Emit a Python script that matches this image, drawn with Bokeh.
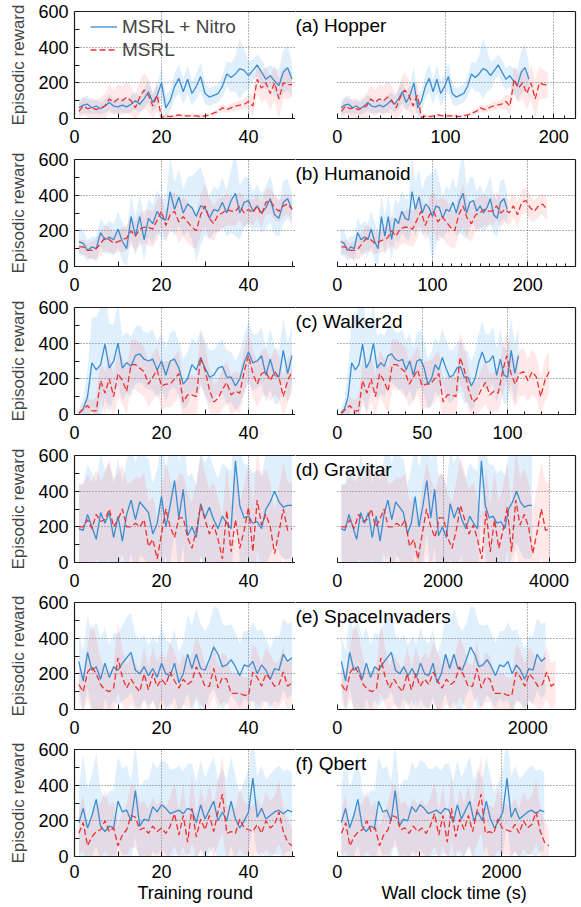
import numpy as np
from bokeh.plotting import figure
from bokeh.layouts import column, row
from bokeh.models import (Range1d, FixedTicker, LinearAxis, Label, Legend, LegendItem,
                          Grid, Title)
from bokeh.embed import file_html
from bokeh.resources import INLINE

# ---------------- data ----------------
rounds = list(range(1, 51))

titles = ["(a) Hopper", "(b) Humanoid", "(c) Walker2d", "(d) Gravitar",
          "(e) SpaceInvaders", "(f) Qbert"]

hop_n = [60,75,80,60,70,55,70,90,70,65, 75,65,80,100,80,110,150,90,130,200,
         60,100,180,225,150,220,140,180,235,140, 120,130,140,180,250,230,250,280,270,240,
         270,300,260,220,240,210,185,260,285,220]
hop_n_sd = [40,45,50,35,40,35,40,45,40,35, 40,35,45,50,45,55,60,50,60,90,
            70,60,70,80,70,80,70,70,80,60, 50,50,50,60,70,80,100,170,120,80,
            60,60,70,60,60,70,90,120,130,90]
hop_m = [40,70,55,60,50,60,70,110,90,110, 100,120,100,60,120,160,130,70,130,5,
         15,10,15,20,15,15,15,15,10,15, 20,30,40,60,50,60,70,75,80,95,
         70,220,170,200,140,200,110,200,190,190]
hop_m_sd = [40,50,50,55,50,60,70,80,70,80, 80,90,80,70,90,100,90,70,90,20,
            10,10,10,10,10,10,10,10,10,10, 10,15,15,20,20,20,25,25,30,40,
            60,80,80,90,90,100,110,90,80,70]

hum_n = [140,130,90,110,100,190,150,165,150,210, 140,100,280,170,280,150,270,240,310,270,
         260,420,320,390,300,350,330,280,340,330, 270,320,310,360,300,370,410,300,360,370,
         310,340,300,330,380,290,270,360,380,320]
hum_n_sd = [80,70,60,60,70,80,80,90,90,100, 110,100,120,110,130,120,110,110,120,110,
            120,200,150,160,130,150,180,250,220,150, 120,130,120,140,130,180,240,150,140,130,
            110,120,110,120,130,110,100,120,110,90]
hum_m = [110,110,90,90,100,130,160,150,130,140, 150,160,200,170,210,220,220,210,260,310,
         230,290,310,250,280,250,220,200,290,340, 270,240,290,300,320,310,310,340,300,320,
         300,340,290,360,370,330,310,340,350,320]
hum_m_sd = [40,40,40,50,60,70,70,70,60,60, 70,70,80,80,90,90,100,100,110,90,
            80,100,110,120,110,120,110,100,110,120, 110,100,90,90,90,80,80,80,80,70,
            70,70,70,70,70,70,60,60,60,60]

walk_n = [10,30,100,290,250,280,395,260,300,400, 260,290,270,330,340,310,300,310,250,300,
          220,300,310,260,170,200,280,250,320,260, 210,220,260,270,210,210,160,200,290,350,
          290,300,330,220,310,220,210,360,230,330]
walk_n_sd = [20,60,150,250,300,320,300,250,200,230, 180,170,170,160,160,150,160,170,160,160,
             150,160,160,150,140,150,150,150,160,160, 150,140,140,150,150,140,140,150,160,170,
             160,150,160,150,170,160,150,180,170,160]
walk_m = [5,30,50,20,20,190,120,200,100,230, 190,130,280,280,260,240,170,210,250,160,
          170,170,200,230,70,110,110,100,320,250, 140,70,90,140,180,110,130,120,240,330,
          230,170,230,240,190,240,210,100,190,240]
walk_m_sd = [10,30,50,60,80,110,120,130,120,130, 130,130,140,140,140,140,130,130,130,130,
             130,130,130,130,110,110,110,110,140,140, 120,100,100,110,120,110,110,110,130,140,
             130,130,130,130,120,130,120,110,120,120]

gra_n = [190,180,270,200,130,280,220,280,140,260, 120,270,350,240,340,310,280,160,220,370,
         200,320,460,250,410,150,200,140,330,250, 310,240,190,260,220,190,570,320,250,260,
         220,230,190,300,340,400,340,310,320,320]
gra_n_sd = [250,260,280,300,320,330,300,280,300,320, 330,310,300,320,300,290,300,280,300,320,
            330,320,300,310,320,330,300,290,300,310, 300,290,280,300,310,320,300,310,300,290,
            280,290,300,310,300,290,280,290,300,290]
gra_m = [200,200,240,190,270,230,240,300,200,240, 300,200,200,220,200,240,90,130,20,160,
         300,200,140,250,250,140,80,180,320,240, 160,210,130,20,290,60,240,80,180,310,
         60,350,210,270,200,50,170,300,180,190]
gra_m_sd = [230,240,250,260,250,230,260,280,270,260, 250,240,250,260,270,260,250,240,230,250,
            260,270,260,250,240,250,260,270,280,260, 250,240,230,240,250,260,270,260,250,240,
            260,280,270,260,250,240,250,260,270,260]

spi_n = [270,160,320,220,240,170,260,180,240,220, 260,290,320,220,200,240,190,230,180,260,
         200,190,260,150,200,310,230,310,230,220, 280,350,310,240,250,280,240,190,250,240,
         270,200,250,220,170,230,220,310,270,290]
spi_n_sd = [150,170,200,220,250,230,200,180,190,200, 210,230,220,200,190,180,170,180,190,200,
            190,180,190,170,180,220,240,260,250,220, 200,230,260,240,220,200,190,180,190,200,
            220,240,200,180,170,180,190,200,210,200]
spi_m = [140,100,210,240,200,140,110,100,120,290, 180,120,170,130,100,200,110,200,130,170,
         140,210,160,120,170,140,160,240,190,130, 130,230,120,180,170,90,90,90,80,80,
         210,180,130,200,170,130,140,210,130,150]
spi_m_sd = [100,110,150,250,200,140,120,110,130,200, 160,130,140,130,120,150,130,150,140,150,
            140,170,160,130,140,130,150,170,160,130, 120,150,120,140,130,110,110,110,100,100,
            160,150,130,150,140,130,130,150,130,130]

qb_n = [190,270,160,230,320,170,140,170,160,310, 250,260,200,370,170,210,200,280,250,290,
        270,240,250,260,240,270,260,190,290,210, 260,310,200,250,200,310,210,160,200,250,
        440,220,270,210,230,250,260,240,260,250]
qb_n_sd = [200,300,220,230,260,200,190,200,210,250, 240,250,220,260,210,220,230,250,240,250,
           260,250,240,250,240,250,260,230,250,230, 240,250,230,240,230,250,240,200,220,240,
           260,230,240,220,230,240,250,240,230,220]
qb_m = [130,190,60,110,140,150,200,140,160,60, 120,150,230,220,150,160,130,170,140,160,
        130,170,240,120,230,80,270,110,210,150, 230,140,250,350,130,140,130,210,160,150,
        140,180,130,200,160,180,250,140,80,60]
qb_m_sd = [120,160,110,130,140,150,170,140,150,110, 130,150,180,170,150,150,140,160,150,160,
           150,160,180,140,170,130,190,130,170,150, 170,150,180,220,150,150,140,170,150,140,
           140,150,140,160,150,160,180,140,120,100]

# wall-clock seconds per training round (MSRL + Nitro, MSRL)
sec_per_round_nitro = [3.54, 3.57, 2.13, 73.6, 43.7, 50.4]
sec_per_round_msrl = [3.89, 4.40, 2.49, 80.3, 45.8, 51.5]

nitro_means = [hop_n, hum_n, walk_n, gra_n, spi_n, qb_n]
nitro_sds = [hop_n_sd, hum_n_sd, walk_n_sd, gra_n_sd, spi_n_sd, qb_n_sd]
msrl_means = [hop_m, hum_m, walk_m, gra_m, spi_m, qb_m]
msrl_sds = [hop_m_sd, hum_m_sd, walk_m_sd, gra_m_sd, spi_m_sd, qb_m_sd]

# right-panel axis extents and ticks
right_xmax = [220, 250, 140, 4500, 2500, 2900]
right_major = [[0, 100, 200], [0, 100, 200], [0, 50, 100],
               [0, 1000, 2000, 3000, 4000], [0, 1000, 2000], [0, 1000, 2000]]
right_hidden = [{}, {}, {}, {1000: "", 3000: ""}, {1000: ""}, {1000: ""}]
right_minor = [list(range(0, 221, 10)), list(range(0, 251, 10)), list(range(0, 141, 10)),
               [], [], []]
right_grid = [[100, 200], [100, 200], [50, 100], [2000, 4000], [2000], [2000]]

left_ticks = [0, 10, 20, 30, 40, 50]
left_hidden = {10: "", 30: "", 50: ""}
left_grid = [20, 40]
y_ticks = [0, 100, 200, 300, 400, 500, 600]
y_hidden = {100: "", 300: "", 500: ""}
y_grid = [200, 400]

# ---------------- style / layout ----------------
FONT = "Liberation Sans"
BLUE = "#3a8cd0"
RED = "#ee3030"
BLUE_FILL = "#2f96ec"
RED_FILL = "#ff5a5a"
AXIS_C = "#1a1a1a"
GRID_C = "#6a6a6a"
LEFT_BORDER = 74
LEFT_FRAME_W = 221
LEFT_X_END = LEFT_FRAME_W / 4.35
RIGHT_FRAME_W = 280
RIGHT_ZERO_PX = 41.7
FRAME_H = 107
ROW_TOP = [11, 8, 8, 8, 8, 8]
ROW_BOTTOM = [33, 33, 33, 32, 32, 51]
TICK_STANDOFF = [11, 11, 11, 11, 11, 8]


def style_axis(ax):
    ax.axis_line_color = AXIS_C
    ax.axis_line_width = 1.2
    ax.major_tick_line_color = AXIS_C
    ax.minor_tick_line_color = AXIS_C
    ax.major_tick_in = 5
    ax.major_tick_out = 0
    ax.minor_tick_in = 3
    ax.minor_tick_out = 0
    ax.major_label_text_font = FONT
    ax.major_label_text_font_size = "18px"
    ax.major_label_text_color = "#000000"


def line_only(ax):
    ax.ticker = FixedTicker(ticks=[])
    ax.axis_line_color = AXIS_C
    ax.axis_line_width = 1.2
    ax.major_tick_in = 0
    ax.major_tick_out = 0
    ax.minor_tick_in = 0
    ax.minor_tick_out = 0
    ax.major_label_standoff = 0
    ax.major_label_text_font_size = "0px"


def style_grid(g):
    g.grid_line_color = GRID_C
    g.grid_line_dash = "1 2"
    g.grid_line_width = 1


rows = []
for i in range(6):
    last = i == 5
    x = np.array(rounds, dtype=float)
    nm, ns = np.array(nitro_means[i], float), np.array(nitro_sds[i], float)
    mm, ms = np.array(msrl_means[i], float), np.array(msrl_sds[i], float)

    # ---- left: training round ----
    pl = figure(x_range=Range1d(0, LEFT_X_END), y_range=Range1d(0, 600),
                frame_width=LEFT_FRAME_W, frame_height=FRAME_H,
                min_border_left=LEFT_BORDER, min_border_right=0,
                min_border_top=ROW_TOP[i], min_border_bottom=ROW_BOTTOM[i],
                toolbar_location=None, output_backend="svg", outline_line_color=None)
    xa = pl.xaxis[0]
    style_axis(xa)
    xa.ticker = FixedTicker(ticks=left_ticks)
    xa.major_label_overrides = left_hidden
    xa.major_label_standoff = TICK_STANDOFF[i]
    ya = pl.yaxis[0]
    style_axis(ya)
    ya.ticker = FixedTicker(ticks=y_ticks)
    ya.major_label_overrides = y_hidden
    ya.major_label_standoff = 6
    ya.axis_label = "Episodic reward"
    ya.axis_label_text_font = FONT
    ya.axis_label_text_font_size = "17px"
    ya.axis_label_text_font_style = "normal"
    ya.axis_label_standoff = 7
    top = LinearAxis()
    line_only(top)
    pl.add_layout(top, "above")
    pl.xgrid.ticker = FixedTicker(ticks=left_grid)
    pl.ygrid.ticker = FixedTicker(ticks=y_grid)
    style_grid(pl.xgrid[0])
    style_grid(pl.ygrid[0])

    pl.varea(x=x, y1=nm - ns, y2=nm + ns, fill_color=BLUE_FILL, fill_alpha=0.15)
    pl.varea(x=x, y1=mm - ms, y2=mm + ms, fill_color=RED_FILL, fill_alpha=0.14)
    bl = pl.line(x, nm, line_color=BLUE, line_width=1.3)
    rl = pl.line(x, mm, line_color=RED, line_width=1.3, line_dash="6 3")

    if i == 0:
        leg = Legend(items=[LegendItem(label="MSRL + Nitro", renderers=[bl]),
                            LegendItem(label="MSRL", renderers=[rl])],
                     location=(16, 57), label_text_font=FONT,
                     label_text_font_size="19px", glyph_width=27, glyph_height=23,
                     label_height=23, spacing=0, padding=0, margin=0,
                     label_standoff=5, border_line_color=None,
                     background_fill_alpha=0)
        pl.add_layout(leg)

    # ---- right: wall clock time ----
    xmax = right_xmax[i]
    start = -xmax * RIGHT_ZERO_PX / (RIGHT_FRAME_W - RIGHT_ZERO_PX)
    pr = figure(x_range=Range1d(start, xmax), y_range=Range1d(0, 600),
                frame_width=RIGHT_FRAME_W, frame_height=FRAME_H,
                min_border_left=0, min_border_right=5,
                min_border_top=ROW_TOP[i], min_border_bottom=ROW_BOTTOM[i],
                toolbar_location=None, output_backend="svg", outline_line_color=None,
                y_axis_location="right")
    xb = pr.xaxis[0]
    style_axis(xb)
    xb.bounds = (0, xmax)
    xb.ticker = FixedTicker(ticks=right_major[i], minor_ticks=right_minor[i])
    xb.major_label_overrides = right_hidden[i]
    xb.major_label_standoff = TICK_STANDOFF[i]
    line_only(pr.yaxis[0])
    top2 = LinearAxis()
    line_only(top2)
    pr.add_layout(top2, "above")
    pr.xgrid.ticker = FixedTicker(ticks=right_grid[i])
    pr.ygrid.ticker = FixedTicker(ticks=y_grid)
    style_grid(pr.xgrid[0])
    style_grid(pr.ygrid[0])
    if "cross_bounds" in Grid.properties():
        pr.ygrid[0].cross_bounds = (0, xmax)

    xn = x * sec_per_round_nitro[i]
    xm = x * sec_per_round_msrl[i]
    pr.varea(x=xn, y1=nm - ns, y2=nm + ns, fill_color=BLUE_FILL, fill_alpha=0.15)
    pr.varea(x=xm, y1=mm - ms, y2=mm + ms, fill_color=RED_FILL, fill_alpha=0.14)
    pr.line(xn, nm, line_color=BLUE, line_width=1.3)
    pr.line(xm, mm, line_color=RED, line_width=1.3, line_dash="6 3")

    pr.add_layout(Label(x=start, y=600, x_offset=0, y_offset=-14, text=titles[i],
                        text_baseline="middle", text_align="left",
                        text_font=FONT, text_font_size="19px", text_color="#000000"))

    if last:
        pl.add_layout(Title(text="Training round", align="left", offset=63, standoff=0,
                            text_font=FONT, text_font_size="18px",
                            text_font_style="normal", text_color="#000000"), "below")
        pr.add_layout(Title(text="Wall clock time (s)", align="left", offset=86, standoff=0,
                            text_font=FONT, text_font_size="18px",
                            text_font_style="normal", text_color="#000000"), "below")

    rows.append(row(pl, pr))

layout = column(*rows)
open("out.html", "w").write(file_html(layout, INLINE))
